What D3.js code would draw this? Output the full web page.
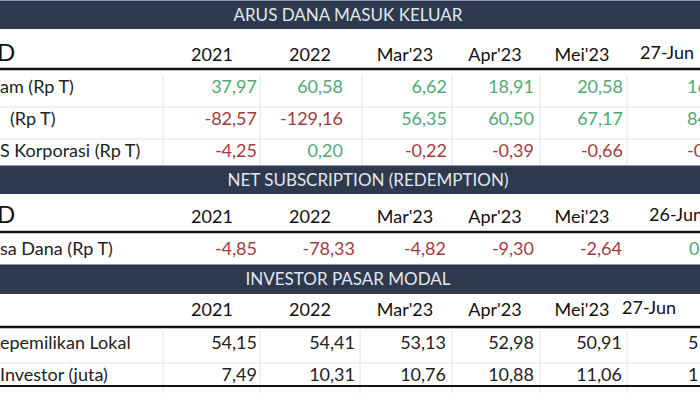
<!DOCTYPE html><html><head><meta charset="utf-8">
<script src="https://cdn.jsdelivr.net/npm/d3@7"></script>
<style>body{margin:0;background:#fff}svg{display:block}text{font-family:Lato,"Open Sans",sans-serif}</style></head><body>
<script>
const columns=["2021","2022","Mar'23","Apr'23","Mei'23"];
const sec1Title="ARUS DANA MASUK KELUAR", sec2Title="NET SUBSCRIPTION (REDEMPTION)", sec3Title="INVESTOR PASAR MODAL";
const sec1Labels=["am (Rp T)"," (Rp T)","S Korporasi (Rp T)"];
const sec1Values=[[37.97,60.58,6.62,18.91,20.58],[-82.57,-129.16,56.35,60.50,67.17],[-4.25,0.20,-0.22,-0.39,-0.66]];
const sec1Last=["16","84","-0"];
const sec1Colors=[["g","g","g","g","g"],["r","r","g","g","g"],["r","g","r","r","r"]];
const sec2Labels=["sa Dana (Rp T)"];
const sec2Values=[[-4.85,-78.33,-4.82,-9.30,-2.64]];
const sec2Last=["0"];
const sec2Colors=[["r","r","r","r","r"]];
const sec3Labels=["epemilikan Lokal","Investor (juta)"];
const sec3Values=[[54.15,54.41,53.13,52.98,50.91],[7.49,10.31,10.76,10.88,11.06]];
const sec3Last=["51","11"];
const lastHead1="27-Jun", lastHead2="26-Jun", lastHead3="27-Jun";

const W=700,H=400;
const svg=d3.select("body").append("svg").attr("width",W).attr("height",H);
const col={g:"#4fa874",r:"#a33a42",k:"#222"};
const fmt=v=>d3.format(".2f")(v).replace("\u2212","-").replace(".",",");
const headX=d3.scaleOrdinal().domain(columns).range([212,310,405,495,582]);
const valX1=d3.scaleOrdinal().domain(columns).range([257,343,447,534,623]);
const valX3=d3.scaleOrdinal().domain(columns).range([257,355,446,534,622]);

function band(y0,y1,title,cx){
  svg.append("rect").attr("x",0).attr("y",y0).attr("width",W).attr("height",y1-y0).attr("fill","#2d3a4e");
  svg.append("line").attr("x1",0).attr("x2",W).attr("y1",y0+0.5).attr("y2",y0+0.5).attr("stroke","#8a97aa");
  svg.append("text").attr("x",cx).attr("y",(y0+y1)/2+6).attr("text-anchor","middle").attr("fill","#e3e7ee").attr("font-size",17).text(title);
}
function header(y,lastText,lastX,showD,lineY){
  if(showD) svg.append("text").attr("x",-3).attr("y",y).attr("font-size",24).attr("fill","#111").text("D");
  svg.selectAll(null).data(columns).join("text").attr("x",d=>headX(d)).attr("y",y).attr("text-anchor","middle").attr("font-size",18).attr("fill","#111").text(d=>d);
  svg.append("text").attr("x",lastX).attr("y",y-2).attr("font-size",18).attr("fill","#111").text(lastText);
  svg.append("line").attr("x1",0).attr("x2",W).attr("y1",lineY).attr("y2",lineY).attr("stroke","#111").attr("stroke-width",2.5);
}
function rows(labels,values,colors,lasts,y0,step,xs,lastX,sep){
  labels.forEach((lab,i)=>{
    const y=y0+i*step;
    svg.append("text").attr("x",i==1&&labels.length==3?10:0).attr("y",y).attr("font-size",18).attr("fill","#222").text(lab);
    svg.selectAll(null).data(values[i]).join("text").attr("x",(d,j)=>xs(columns[j])).attr("y",y).attr("text-anchor","end").attr("font-size",18)
      .attr("fill",(d,j)=>colors?col[colors[i][j]]:col.k).text(d=>fmt(d));
    svg.append("text").attr("x",lastX).attr("y",y).attr("font-size",18).attr("fill",colors?col[lasts[i]=="0"||i<2&&colors[i][4]=="g"?"g":"r"]:col.k).text(lasts[i]);
    if(i<labels.length-1) svg.append("line").attr("x1",0).attr("x2",W).attr("y1",y+14).attr("y2",y+14).attr("stroke","#e4e4e4");
  });
  sep.forEach(x=>svg.append("line").attr("x1",x).attr("x2",x).attr("y1",y0-18).attr("y2",y0+(labels.length-1)*step+12).attr("stroke","#e2e2e2"));
}
const seps=[163,260,362,452,540,627];
band(0,29,sec1Title,348);
header(61,lastHead1,640,true,69);
rows(sec1Labels,sec1Values,sec1Colors,sec1Last,93,32,valX1,687,seps);
band(165,194,sec2Title,368);
header(223,lastHead2,649,true,232);
rows(sec2Labels,sec2Values,sec2Colors,sec2Last,255,32,valX3,689,[]);
svg.append("line").attr("x1",0).attr("x2",W).attr("y1",266).attr("y2",266).attr("stroke","#9aa6b8");
band(264,294,sec3Title,348);
header(316,lastHead3,622,false,327);
rows(sec3Labels,sec3Values,null,sec3Last,349,32,valX3,688,[163,260,360,452,540,627]);
svg.append("line").attr("x1",0).attr("x2",W).attr("y1",386).attr("y2",386).attr("stroke","#111").attr("stroke-width",2);
</script></body></html>
